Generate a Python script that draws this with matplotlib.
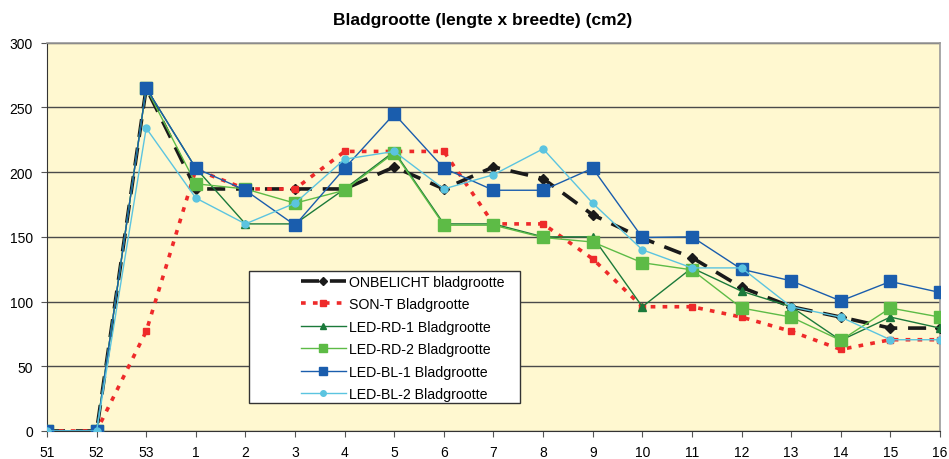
#!/usr/bin/env python3

import matplotlib
matplotlib.use('Agg')
import matplotlib.pyplot as plt
from matplotlib.patches import Rectangle

# font like the original (Arial look-alike)
plt.rcParams['font.family'] = ['Liberation Sans', 'DejaVu Sans']
plt.rc('axes', unicode_minus=False)

# data
weeks = ['51', '52', '53', '1', '2', '3', '4', '5', '6', '7', '8',
         '9', '10', '11', '12', '13', '14', '15', '16']
onbelicht = [0, 0, 265, 187, 187, 187, 187, 204, 187, 204, 195,
             167, 149, 134, 111, 96, 88, 79.5, 79.5]
son_t = [0, 0, 77, 202, 187, 187, 216, 216, 216, 160, 160,
         133, 96, 96, 88, 77, 63, 70.5, 70.5]
led_rd_1 = [0, 0, 265, 203, 160, 160, 187, 216, 160, 160, 150,
            150, 96, 126, 108, 96, 70, 88, 79.5]
led_rd_2 = [0, 0, 265, 191, 187, 176, 186, 215, 159, 159, 149.5,
            146, 130, 124.5, 95, 88, 70, 95, 88]
led_bl_1 = [0, 0, 265, 203, 186, 159, 203, 245, 203, 186, 186,
            203, 149.5, 150, 125, 116, 100.5, 115.5, 107]
led_bl_2 = [0, 0, 234, 180, 160, 176, 210, 216, 187, 198, 218,
            176, 140, 126, 126, 96, 88, 70.5, 70.5]

x = list(range(len(weeks)))

fig = plt.figure(figsize=(9.49, 4.6), dpi=100)
ax = fig.add_axes([0.0495, 0.0609, 0.941, 0.8441])
ax.set_facecolor('#FFF8D0')

# series, in legend order (later ones drawn on top)
ax.plot(x, onbelicht, color='#1a1a1a', lw=2.6, dashes=(5, 3),
        marker='D', ms=5, label='ONBELICHT bladgrootte', zorder=3)
ax.plot(x, son_t, color='#EE2A2A', lw=2.6, dashes=(1.3, 2.0),
        marker='s', ms=5, label='SON-T Bladgrootte', zorder=3)
ax.plot(x, led_rd_1, color='#1B7A3A', lw=1.0, marker='^', ms=6,
        label='LED-RD-1 Bladgrootte', zorder=3)
ax.plot(x, led_rd_2, color='#5DBB46', lw=1.0, marker='s', ms=8,
        label='LED-RD-2 Bladgrootte', zorder=3)
ax.plot(x, led_bl_1, color='#1A5DAD', lw=1.0, marker='s', ms=8,
        label='LED-BL-1 Bladgrootte', zorder=3)
ax.plot(x, led_bl_2, color='#5BC4E0', lw=1.0, marker='o', ms=5,
        label='LED-BL-2 Bladgrootte', zorder=3)

ax.set_xlim(0, len(weeks) - 1)
ax.set_ylim(0, 300)
ax.set_xticks(x)
ax.set_xticklabels(weeks)
ax.set_yticks(range(0, 301, 50))
ax.yaxis.grid(True, color='#4a4a4a', lw=1.0)
ax.set_axisbelow(True)
ax.tick_params(labelsize=10, length=4, color='#555555', pad=6)

for side in ['left', 'bottom']:
    ax.spines[side].set_color('#333333')
for side in ['top', 'right']:
    ax.spines[side].set_color('#999999')
    ax.spines[side].set_linewidth(1.2)

fig.text(0.509, 0.955, 'Bladgrootte (lengte x breedte) (cm2)',
         ha='center', va='center', fontsize=12.5, fontweight='bold')

# white legend box like the spreadsheet one
ax.add_patch(Rectangle((0.226, 0.072), 0.3035, 0.34, transform=ax.transAxes,
                       facecolor='white', edgecolor='#333333', lw=1.0,
                       zorder=4))
leg = ax.legend(loc='upper left', bbox_to_anchor=(0.284, 0.402),
                frameon=False, fontsize=10.2, handlelength=3.2,
                handletextpad=0.2, labelspacing=0.6, borderpad=0,
                borderaxespad=0, markerscale=0.8)
leg.set_zorder(5)

plt.savefig('out.png', dpi=100)
